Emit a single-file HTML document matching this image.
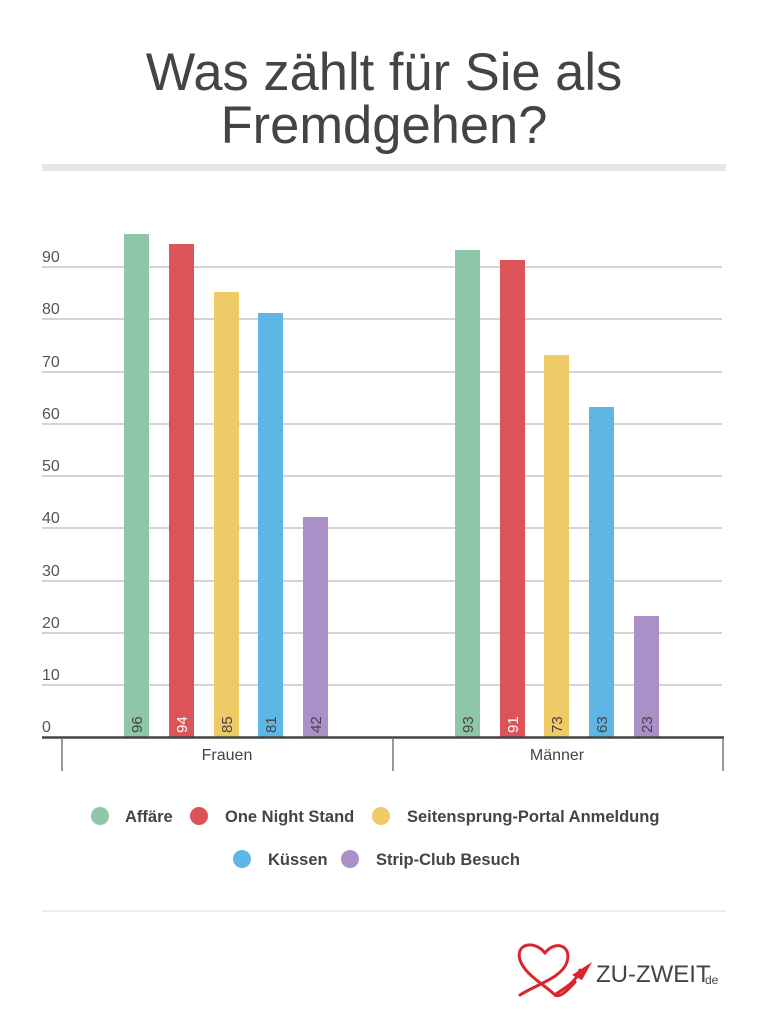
<!DOCTYPE html>
<html><head><meta charset="utf-8"><style>
body{margin:0;background:#fff;}
svg{display:block;font-family:"Liberation Sans",sans-serif;}
</style></head><body>
<svg width="768" height="1030" viewBox="0 0 768 1030">
<text x="384" y="90" text-anchor="middle" font-size="52.5" fill="#444">Was zählt für Sie als</text>
<text x="384" y="143" text-anchor="middle" font-size="52.5" fill="#444">Fremdgehen?</text>
<rect x="42" y="164" width="684" height="7" fill="#e6e6e6"/>
<g stroke="#bbb" stroke-width="1.2">
<line x1="42" x2="722" y1="267" y2="267"/>
<line x1="42" x2="722" y1="319" y2="319"/>
<line x1="42" x2="722" y1="372" y2="372"/>
<line x1="42" x2="722" y1="424" y2="424"/>
<line x1="42" x2="722" y1="476" y2="476"/>
<line x1="42" x2="722" y1="528" y2="528"/>
<line x1="42" x2="722" y1="581" y2="581"/>
<line x1="42" x2="722" y1="633" y2="633"/>
<line x1="42" x2="722" y1="685" y2="685"/>
</g>
<g font-size="16" fill="#555">
<text x="42" y="262">90</text><text x="42" y="314">80</text><text x="42" y="367">70</text>
<text x="42" y="419">60</text><text x="42" y="471">50</text><text x="42" y="523">40</text>
<text x="42" y="576">30</text><text x="42" y="628">20</text><text x="42" y="680">10</text>
<text x="42" y="732">0</text>
</g>
<g>
<rect x="124" y="234" width="25" height="503" fill="#8fc5a8"/>
<rect x="169" y="244" width="25" height="493" fill="#dc5458"/>
<rect x="214" y="292" width="25" height="445" fill="#efcb68"/>
<rect x="258" y="313" width="25" height="424" fill="#5db6e4"/>
<rect x="303" y="517" width="25" height="220" fill="#ab90c8"/>
<rect x="455" y="250" width="25" height="487" fill="#8fc5a8"/>
<rect x="500" y="260" width="25" height="477" fill="#dc5458"/>
<rect x="544" y="355" width="25" height="382" fill="#efcb68"/>
<rect x="589" y="407" width="25" height="330" fill="#5db6e4"/>
<rect x="634" y="616" width="25" height="121" fill="#ab90c8"/>
</g>
<g font-size="15" fill="#444">
<text transform="translate(142,733) rotate(-90)">96</text>
<text transform="translate(187,733) rotate(-90)" fill="#fff">94</text>
<text transform="translate(232,733) rotate(-90)">85</text>
<text transform="translate(276,733) rotate(-90)">81</text>
<text transform="translate(321,733) rotate(-90)">42</text>
<text transform="translate(473,733) rotate(-90)">93</text>
<text transform="translate(518,733) rotate(-90)" fill="#fff">91</text>
<text transform="translate(562,733) rotate(-90)">73</text>
<text transform="translate(607,733) rotate(-90)">63</text>
<text transform="translate(652,733) rotate(-90)">23</text>
</g>
<line x1="42" x2="724" y1="737.5" y2="737.5" stroke="#444" stroke-width="2.5"/>
<g stroke="#777" stroke-width="1.5">
<line x1="62" x2="62" y1="738" y2="771"/>
<line x1="393" x2="393" y1="738" y2="771"/>
<line x1="723" x2="723" y1="738" y2="771"/>
</g>
<g font-size="16" fill="#444" text-anchor="middle">
<text x="227" y="760">Frauen</text><text x="557" y="760">Männer</text>
</g>
<g font-size="16.5" fill="#444" font-weight="bold">
<circle cx="100" cy="816" r="9" fill="#8fc5a8"/><text x="125" y="822">Affäre</text>
<circle cx="199" cy="816" r="9" fill="#dc5458"/><text x="225" y="822">One Night Stand</text>
<circle cx="381" cy="816" r="9" fill="#efcb68"/><text x="407" y="822">Seitensprung-Portal Anmeldung</text>
<circle cx="242" cy="859" r="9" fill="#5db6e4"/><text x="268" y="865">Küssen</text>
<circle cx="350" cy="859" r="9" fill="#ab90c8"/><text x="376" y="865">Strip-Club Besuch</text>
</g>
<line x1="42" x2="726" y1="911" y2="911" stroke="#e6e6e6" stroke-width="1.5"/>
<g fill="none" stroke="#d9262c" stroke-width="3" stroke-linecap="round">
<path d="M545 953 C535 940 515 943 520 960 C525 975 545 985 555 995 C560 990 575 985 580 970"/>
<path d="M545 953 C555 940 572 945 567 962 C562 978 535 985 520 995"/>
<path d="M555 995 C560 998 568 990 575 982"/>
</g>
<path d="M572 975 L592 962 L582 980 Z" fill="#d9262c"/>
<text x="596" y="982" font-size="24" fill="#444">ZU-ZWEIT</text>
<text x="705" y="984" font-size="12" fill="#444">de</text>
</svg>
</body></html>
